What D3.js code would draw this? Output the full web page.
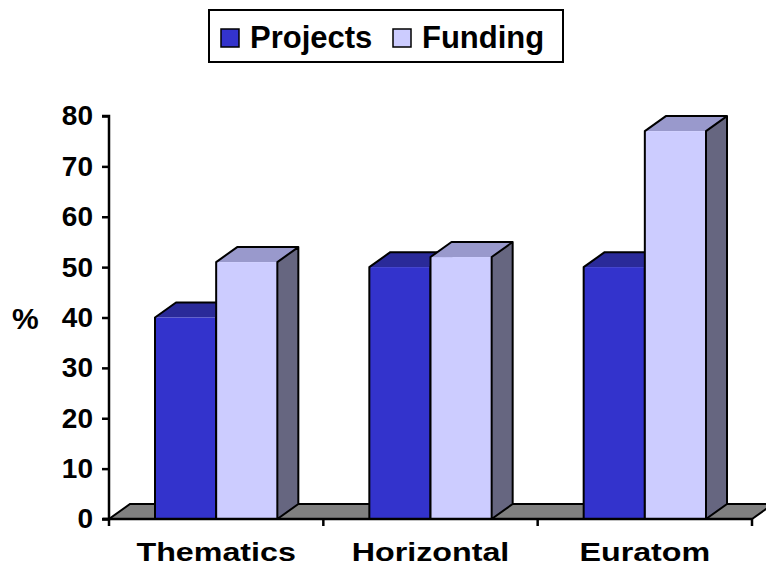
<!DOCTYPE html>
<html>
  <head>
  <title>Projects and funding</title>
  <style>
    body, html { margin: 0; padding: 0; background: #fff; }
    svg { display: block; font-family: "Liberation Sans", Arial, sans-serif; font-weight: bold; }
  </style>
  </head>
  <body>
  <svg id="svg" width="766" height="569"></svg>
  <script src="https://d3js.org/d3.v7.min.js"></script>
  <script>
    const categories = ['Thematics', 'Horizontal', 'Euratom']
    const series = ['Projects', 'Funding']
    const projects = [40, 50, 50]
    const funding = [51, 52, 77]
    const yTicks = [0, 10, 20, 30, 40, 50, 60, 70, 80]

    const frontColor = { Projects: '#3333cc', Funding: '#ccccff' }
    const topColor = { Projects: '#2a2a99', Funding: '#9999cc' }
    const sideColor = { Projects: '#222277', Funding: '#666680' }

    const depth = { dx: 21, dy: -15 }

    const svg = d3.select('#svg')

    const xscale = d3.scaleBand()
      .domain(categories)
      .range([109, 752])
    const inner = d3.scaleBand()
      .domain(series)
      .range([46, xscale.bandwidth() - 46])
    const yscale = d3.scaleLinear()
      .domain([0, 80])
      .range([519, 116])

    // floor
    const y0 = yscale(0)
    svg.append('path')
      .attr('d', `M109,${y0} L752,${y0} L${752 + depth.dx},${y0 + depth.dy} L${109 + depth.dx},${y0 + depth.dy} Z`)
      .attr('fill', '#808080')
      .attr('stroke', '#000')
      .attr('stroke-width', 2)

    const data = categories.flatMap((c, i) => [
      { cat: c, s: 'Projects', v: projects[i] },
      { cat: c, s: 'Funding', v: funding[i] }
    ])

    const bars = svg.append('g')
      .selectAll('g')
      .data(data)
      .enter()
      .append('g')

    bars.each(function (d) {
      const g = d3.select(this)
      const x = xscale(d.cat) + inner(d.s)
      const w = inner.bandwidth()
      const yt = yscale(d.v)
      const { dx, dy } = depth
      g.append('path')
        .attr('d', `M${x + w},${y0} L${x + w + dx},${y0 + dy} L${x + w + dx},${yt + dy} L${x + w},${yt} Z`)
        .attr('fill', sideColor[d.s])
      g.append('path')
        .attr('d', `M${x},${yt} L${x + dx},${yt + dy} L${x + w + dx},${yt + dy} L${x + w},${yt} Z`)
        .attr('fill', topColor[d.s])
      g.append('rect')
        .attr('x', x)
        .attr('y', yt)
        .attr('width', w)
        .attr('height', y0 - yt)
        .attr('fill', frontColor[d.s])
      g.append('path')
        .attr('d', `M${x},${y0} L${x},${yt} L${x + dx},${yt + dy} L${x + w + dx},${yt + dy} L${x + w + dx},${y0 + dy} M${x + w},${y0} L${x + w},${yt} L${x + w + dx},${yt + dy} M${x + w},${y0} L${x + w + dx},${y0 + dy}`)
        .attr('fill', 'none')
        .attr('stroke', '#000')
        .attr('stroke-width', 2)
        .attr('stroke-linejoin', 'round')
    })

    // y axis
    const leftAxis = d3.axisLeft(yscale)
      .tickValues(yTicks)
      .tickSize(7)
      .tickPadding(9)
    const ya = svg.append('g')
      .attr('transform', 'translate(109, 0)')
      .call(leftAxis)
    ya.select('.domain').attr('stroke-width', 2.5).attr('d', `M-7,116 H0 V519 H-7`)
    ya.selectAll('.tick line').attr('stroke-width', 2.5)
    ya.selectAll('text')
      .attr('font-size', 28)
      .attr('font-family', '"Liberation Sans", Arial, sans-serif')
      .attr('font-weight', 'bold')
      .attr('fill', '#000')

    // x axis
    const bottomAxis = d3.axisBottom(xscale)
      .tickSize(0)
      .tickPadding(24)
    const xa = svg.append('g')
      .attr('transform', `translate(0, ${y0})`)
      .call(bottomAxis)
    xa.select('.domain').attr('stroke-width', 2.5).attr('d', 'M103,0 H752')
    xa.selectAll('text')
      .attr('font-size', 26)
      .attr('font-family', '"Liberation Sans", Arial, sans-serif')
      .attr('font-weight', 'bold')
      .attr('fill', '#000')
      .each(function () {
        const len = this.getComputedTextLength()
        d3.select(this)
          .attr('textLength', len * 1.24)
          .attr('lengthAdjust', 'spacingAndGlyphs')
      })
    xa.selectAll('.sep')
      .data(categories.map(c => xscale(c)).concat([752]))
      .enter()
      .append('line')
      .attr('x1', d => d).attr('x2', d => d)
      .attr('y1', 0).attr('y2', 7)
      .attr('stroke', '#000')
      .attr('stroke-width', 2.5)

    svg.append('text')
      .attr('x', 12)
      .attr('y', 329)
      .attr('font-size', 30)
      .text('%')

    // legend
    const legend = svg.append('g')
    legend.append('rect')
      .attr('x', 209).attr('y', 10)
      .attr('width', 354).attr('height', 52)
      .attr('fill', '#fff')
      .attr('stroke', '#000')
      .attr('stroke-width', 2)
    const legendX = [221, 393]
    series.forEach((s, i) => {
      legend.append('rect')
        .attr('x', legendX[i]).attr('y', 29)
        .attr('width', 18).attr('height', 18)
        .attr('fill', frontColor[s])
        .attr('stroke', '#000')
        .attr('stroke-width', 1.5)
      legend.append('text')
        .attr('x', legendX[i] + 29)
        .attr('y', 48)
        .attr('font-size', 31)
        .text(s)
    })
  </script>
  </body>
</html>
